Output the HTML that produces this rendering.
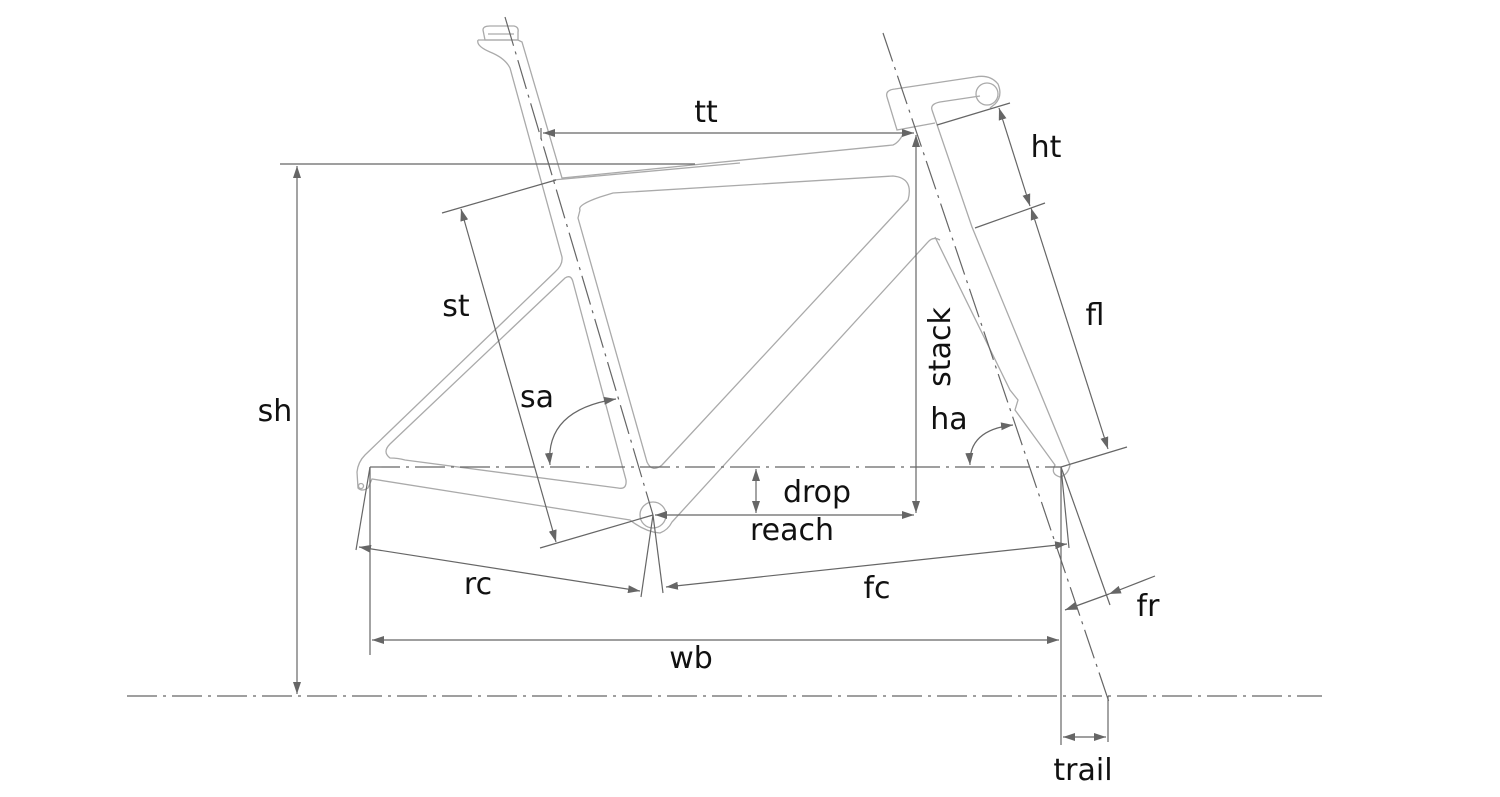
<!DOCTYPE html>
<html><head><meta charset="utf-8"><style>
html,body{margin:0;padding:0;background:#fff}
svg{display:block}
text{font-family:"DejaVu Sans","Liberation Sans",sans-serif;font-size:30px;fill:#111}
</style></head><body>
<svg width="1500" height="797" viewBox="0 0 1500 797" xmlns="http://www.w3.org/2000/svg">
<defs>
<marker id="a" viewBox="0 0 12 8" refX="12" refY="4" markerWidth="12" markerHeight="8" orient="auto-start-reverse" markerUnits="userSpaceOnUse"><path d="M0,0 L12,4 L0,8 z" fill="#666"/></marker>
</defs>
<!-- frame -->
<g fill="none" stroke="#aaa" stroke-width="1.3">
<path d="M483,30 Q483,26 490,26 L514,26 Q519,27 518,32 L518,40 L485,40 Z M488,34 L514,34"/>
<path d="M478,40 L518,40 L522,42 L562,178 L893,145 Q900,142 905,130"/>
<path d="M478,40 Q476,46 490,52 Q505,58 510,68 L562,257 Q563,265 555,272 L365,455 Q358,462 357,472 L358,488 Q362,492 368,488 L372,479 L630,520 Q645,532 660,533 Q668,530 672,522 L928,242 Q933,236 940,240"/>
<path d="M553,180 L740,163"/>
<path d="M580,210 Q577,205 600,197 L613,193 L893,176 Q914,178 908,200 L662,465 Q652,473 647,462 L578,218 Z"/>
<path d="M573,282 L626,480 Q627,490 618,488 L405,460 Q398,458 390,458 Q382,452 390,444 L565,278 Q571,274 573,282 Z"/>
<circle cx="653" cy="515" r="13"/>
<circle cx="361" cy="486" r="2.5"/>
<path d="M887,97 Q885,90 895,89 L975,77 Q990,74 998,84 Q1003,96 995,104 L990,108"/>
<circle cx="987" cy="94" r="11"/>
<path d="M887,97 L897,130 L935,123"/>
<path d="M932,110 Q930,104 940,102 L980,96"/>
<path d="M932,110 L972,227 L1070,465 Q1068,475 1060,477 Q1050,474 1055,465 L1015,410 L1018,400 L1010,390 L935,237"/>
</g>
<!-- dash-dot axes -->
<g fill="none" stroke="#666" stroke-width="1.2" stroke-dasharray="30 6 3 6">
<line x1="127" y1="696" x2="1322" y2="696"/>
<line x1="370" y1="467" x2="1061" y2="467"/>
<line x1="883" y1="33" x2="1110" y2="705"/>
<line x1="505" y1="17" x2="653" y2="515"/>
</g>
<!-- dimension & extension lines -->
<g fill="none" stroke="#666" stroke-width="1.2">
<line x1="280" y1="164" x2="695" y2="164"/>
<line x1="297" y1="166" x2="297" y2="694" marker-start="url(#a)" marker-end="url(#a)"/>
<line x1="370" y1="467" x2="370" y2="655"/>
<line x1="1061" y1="467" x2="1061" y2="745"/>
<line x1="1108" y1="696" x2="1108" y2="742"/>
<line x1="372" y1="640" x2="1059" y2="640" marker-start="url(#a)" marker-end="url(#a)"/>
<line x1="1063" y1="737" x2="1106" y2="737" marker-start="url(#a)" marker-end="url(#a)"/>
<line x1="370" y1="467" x2="356" y2="550"/>
<line x1="653" y1="515" x2="641" y2="597"/>
<line x1="653" y1="515" x2="663" y2="593"/>
<line x1="1061" y1="467" x2="1069" y2="548"/>
<line x1="1061" y1="467" x2="1110" y2="605"/>
<line x1="359" y1="547" x2="640" y2="591" marker-start="url(#a)" marker-end="url(#a)"/>
<line x1="666" y1="587" x2="1067" y2="544" marker-start="url(#a)" marker-end="url(#a)"/>
<line x1="1155" y1="576" x2="1109" y2="594" marker-end="url(#a)"/>
<line x1="1109" y1="594" x2="1065" y2="610" marker-end="url(#a)"/>
<line x1="541" y1="128" x2="541" y2="139"/>
<line x1="543" y1="133" x2="914" y2="133" marker-start="url(#a)" marker-end="url(#a)"/>
<line x1="916" y1="135" x2="916" y2="513" marker-start="url(#a)" marker-end="url(#a)"/>
<line x1="655" y1="515" x2="914" y2="515" marker-start="url(#a)" marker-end="url(#a)"/>
<line x1="756" y1="469" x2="756" y2="513" marker-start="url(#a)" marker-end="url(#a)"/>
<line x1="937" y1="125" x2="1010" y2="103"/>
<line x1="975" y1="228" x2="1045" y2="203"/>
<line x1="1061" y1="467" x2="1127" y2="447"/>
<line x1="999" y1="108" x2="1030" y2="206" marker-start="url(#a)" marker-end="url(#a)"/>
<line x1="1031" y1="208" x2="1108" y2="449" marker-start="url(#a)" marker-end="url(#a)"/>
<line x1="442" y1="213" x2="556" y2="180"/>
<line x1="540" y1="548" x2="653" y2="515"/>
<line x1="461" y1="209" x2="556" y2="542" marker-start="url(#a)" marker-end="url(#a)"/>
<path d="M550,465 Q545,410 616,399" marker-start="url(#a)" marker-end="url(#a)"/>
<path d="M970,465 Q968,430 1013,425" marker-start="url(#a)" marker-end="url(#a)"/>
</g>
<!-- labels -->
<text x="706" y="122" text-anchor="middle">tt</text>
<text x="1046" y="157" text-anchor="middle">ht</text>
<text x="1095" y="325" text-anchor="middle">fl</text>
<text x="456" y="316" text-anchor="middle">st</text>
<text x="537" y="407" text-anchor="middle">sa</text>
<text x="950" y="347" text-anchor="middle" transform="rotate(-90 950 347)" dy="0">stack</text>
<text x="949" y="429" text-anchor="middle">ha</text>
<text x="817" y="502" text-anchor="middle">drop</text>
<text x="792" y="540" text-anchor="middle">reach</text>
<text x="478" y="594" text-anchor="middle">rc</text>
<text x="877" y="598" text-anchor="middle">fc</text>
<text x="691" y="668" text-anchor="middle">wb</text>
<text x="1148" y="616" text-anchor="middle">fr</text>
<text x="1083" y="780" text-anchor="middle">trail</text>
<text x="275" y="421" text-anchor="middle">sh</text>
</svg>
</body></html>
